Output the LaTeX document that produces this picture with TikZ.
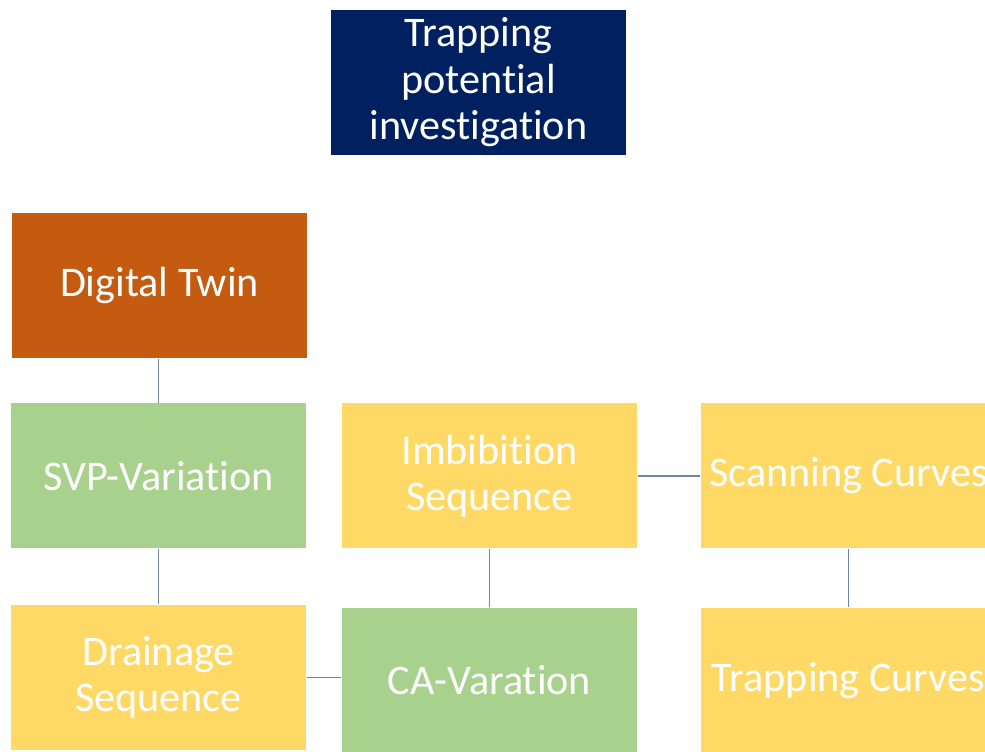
\documentclass[tikz,border=0pt]{standalone}
\usepackage{fontspec}
\setmainfont{Carlito}[RawFeature={-liga;-calt;-clig;-dlig}]
\usepackage{tikz}
\usepackage{color}
\definecolor{navy}{RGB}{0,32,96}
\definecolor{rust}{RGB}{197,90,17}
\definecolor{leaf}{RGB}{169,209,142}
\definecolor{sand}{RGB}{255,217,102}
\definecolor{wire}{RGB}{112,132,165}

\begin{document}
\begin{tikzpicture}[
  box/.style={minimum width=2.95cm,minimum height=1.45cm,inner sep=0pt,
    align=center,text=white,font=\fontsize{12}{13.2}\selectfont},
  link/.style={wire,line width=0.5pt}]
\useasboundingbox (0,0) rectangle (9.85,7.51);
\clip (0,0) rectangle (9.85,7.51);
% boxes
\node[box,fill=navy] (goal) at (4.785,6.685) {Trapping\\potential\\investigation};
\node[box,fill=rust] (twin) at (1.595,4.655) {Digital Twin};
\node[box,fill=leaf] (svp) at (1.585,2.75) {SVP-Variation};
\node[box,fill=sand] (drain) at (1.585,0.735) {Drainage\\Sequence};
\node[box,fill=sand] (imb) at (4.895,2.75) {Imbibition\\Sequence};
\node[box,fill=leaf] (ca) at (4.895,0.705) {CA-Varation};
\node[box,fill=sand] (scan) at (8.485,2.75) {Scanning Curves};
\node[box,fill=sand] (trap) at (8.485,0.705) {Trapping Curves};
% lines
\draw[link] (svp.north |- twin.south) -- (svp.north);
\draw[link] (svp.south) -- (drain.north);
\draw[link] (drain.east) -- (drain.east -| ca.west);
\draw[link] (ca.north) -- (imb.south);
\draw[link] (imb.east) -- (scan.west);
\draw[link] (scan.south) -- (trap.north);
\end{tikzpicture}
\end{document}
